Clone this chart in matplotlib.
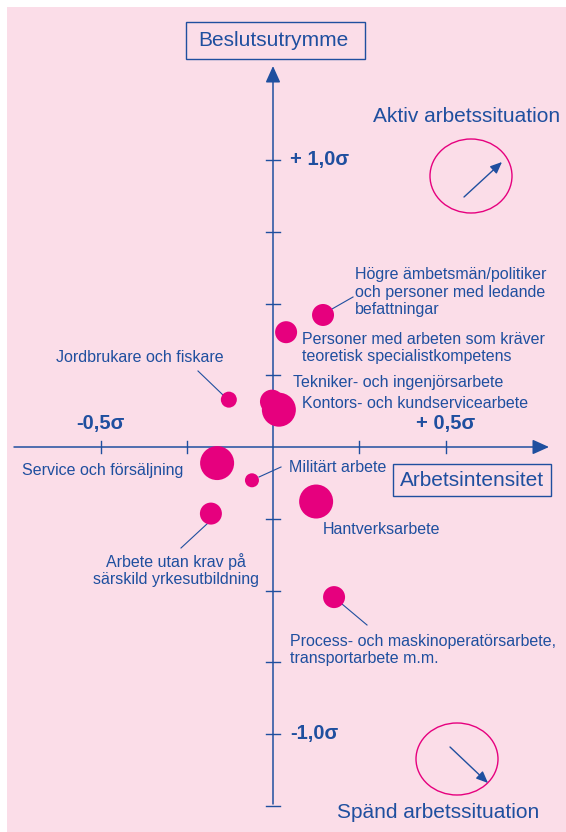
import matplotlib
matplotlib.use("Agg")
import matplotlib.pyplot as plt
from matplotlib.patches import Ellipse, Rectangle

plt.rcParams['font.family'] = ['Liberation Sans', 'DejaVu Sans']

# ---- data (σ units) ----
categories = [
    "Högre ämbetsmän/politiker\noch personer med ledande\nbefattningar",
    "Personer med arbeten som kräver\nteoretisk specialistkompetens",
    "Jordbrukare och fiskare",
    "Tekniker- och ingenjörsarbete",
    "Kontors- och kundservicearbete",
    "Service och försäljning",
    "Militärt arbete",
    "Arbete utan krav på\nsärskild yrkesutbildning",
    "Hantverksarbete",
    "Process- och maskinoperatörsarbete,\ntransportarbete m.m.",
]
arbetsintensitet = [0.145, 0.038, -0.128, -0.003, 0.017, -0.162, -0.061, -0.180, 0.125, 0.177]
beslutsutrymme = [0.46, 0.40, 0.165, 0.158, 0.13, -0.056, -0.116, -0.232, -0.19, -0.523]
group_size = [11, 11, 8, 12, 17, 17, 7, 11, 17, 11]   # relative bubble radius

x_ticks = [-0.5, -0.25, 0.25, 0.5]
y_ticks = [-1.25, -1.0, -0.75, -0.5, -0.25, 0.25, 0.5, 0.75, 1.0]
x_tick_labels = {-0.5: "-0,5σ", 0.5: "+ 0,5σ"}
y_tick_labels = {1.0: "+ 1,0σ", -1.0: "-1,0σ"}

# ---- style ----
W, H = 566, 832
BLUE = '#1f4f9f'
MAG = '#e6007e'
PINK = '#fbdde8'
XS, YS = 345.0, 287.0     # px per σ
OX, OY = 273.0, 447.0     # origin in px


def dx(p):
    return (p - OX) / XS


def dy(p):
    return (OY - p) / YS


fig = plt.figure(figsize=(W / 100, H / 100), dpi=100, facecolor='white')
ax = fig.add_axes([0, 0, 1, 1])
ax.set_xlim(dx(0), dx(W))
ax.set_ylim(dy(H), dy(0))
ax.axis('off')
ax.add_patch(Rectangle((7 / W, 0), 1, 1 - 7 / H, transform=ax.transAxes,
                       facecolor=PINK, edgecolor='none', zorder=0))

# axes with arrows
arrow = dict(arrowstyle='-|>,head_length=1.0,head_width=0.45', lw=1.1, color=BLUE,
             shrinkA=0, shrinkB=0)
ax.annotate('', xy=(dx(549), 0), xytext=(dx(14), 0), arrowprops=arrow)
ax.annotate('', xy=(0, dy(66)), xytext=(0, dy(804)), arrowprops=arrow)

# ticks
for t in x_ticks:
    ax.plot([t, t], [dy(441), dy(453)], color=BLUE, lw=1.0)
for t in y_ticks:
    ax.plot([dx(266), dx(280)], [t, t], color=BLUE, lw=1.0)
for t, s in x_tick_labels.items():
    ax.text(t, dy(423), s, ha='center', va='center', fontsize=14.5,
            fontweight='bold', color=BLUE)
for t, s in y_tick_labels.items():
    ax.text(dx(290), t, s, ha='left', va='center', fontsize=14.5,
            fontweight='bold', color=BLUE)

# axis titles in boxes
ax.text(0, dy(40), "Beslutsutrymme", ha='center', va='center', fontsize=15, color=BLUE)
ax.add_patch(Rectangle((dx(186), dy(59)), (365 - 186) / XS, (59 - 22) / YS,
                       fc='none', ec=BLUE, lw=1.0, zorder=2))
ax.text(dx(472), dy(480), "Arbetsintensitet", ha='center', va='center', fontsize=15,
        color=BLUE)
ax.add_patch(Rectangle((dx(393), dy(496)), (551 - 393) / XS, (496 - 464) / YS,
                       fc='none', ec=BLUE, lw=1.0, zorder=2))

# corner annotations
ax.text(dx(467), dy(117), "Aktiv arbetssituation", ha='center', va='center',
        fontsize=15, color=BLUE)
ax.text(dx(438), dy(812), "Spänd arbetssituation", ha='center', va='center',
        fontsize=15, color=BLUE)
ax.add_patch(Ellipse((dx(471), dy(176)), 82 / XS, 74 / YS, fc='none', ec=MAG, lw=1.0))
ax.add_patch(Ellipse((dx(457), dy(759)), 82 / XS, 72 / YS, fc='none', ec=MAG, lw=1.0))
small_arrow = dict(arrowstyle='-|>,head_length=0.7,head_width=0.3', lw=1.0, color=BLUE,
                   shrinkA=0, shrinkB=0)
ax.annotate('', xy=(dx(502), dy(162)), xytext=(dx(464), dy(197)), arrowprops=small_arrow)
ax.annotate('', xy=(dx(488), dy(783)), xytext=(dx(450), dy(747)), arrowprops=small_arrow)

# bubbles
sizes = [(2 * r * 0.72) ** 2 for r in group_size]
ax.scatter(arbetsintensitet, beslutsutrymme, s=sizes, c=MAG, edgecolors='none', zorder=3)

# labels: (text x px, text y px, ha, multialign, leader line px or None)
label_layout = [
    (355, 292, 'left', 'left', (332, 309, 353, 297)),
    (302, 348, 'left', 'left', None),
    (140, 357, 'center', 'center', (198, 371, 223, 395)),
    (293, 383, 'left', 'left', None),
    (302, 403, 'left', 'left', None),
    (103, 470, 'center', 'center', None),
    (289, 468, 'left', 'left', (259, 477, 281, 467)),
    (176, 570, 'center', 'center', (208, 523, 181, 548)),
    (323, 529, 'left', 'left', None),
    (290, 650, 'left', 'left', (342, 604, 367, 625)),
]
for name, (tx, ty, ha, ma, ld) in zip(categories, label_layout):
    ax.text(dx(tx), dy(ty), name, ha=ha, va='center', multialignment=ma,
            fontsize=11.5, color=BLUE, linespacing=1.2, zorder=4)
    if ld is not None:
        ax.plot([dx(ld[0]), dx(ld[2])], [dy(ld[1]), dy(ld[3])], color=BLUE, lw=0.8, zorder=2)

fig.savefig("out.png", dpi=100, facecolor='white')
